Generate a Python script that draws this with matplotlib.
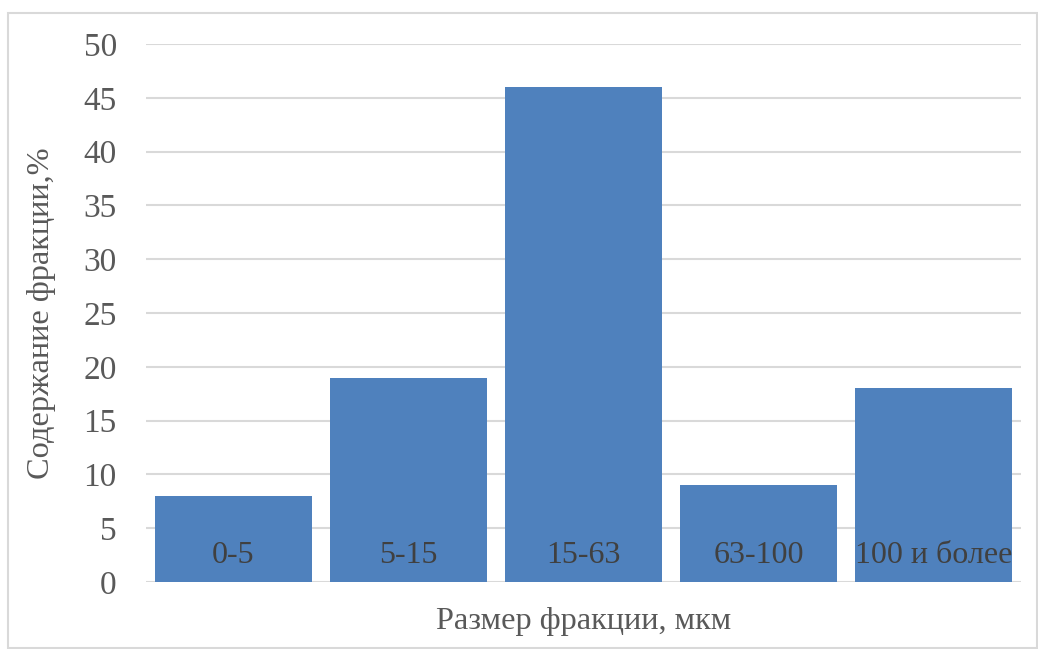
import matplotlib.pyplot as plt
from matplotlib.patches import Rectangle

categories = ["0-5", "5-15", "15-63", "63-100", "100 и более"]
shares = [8, 19, 46, 9, 18]
y_ticks = [0, 5, 10, 15, 20, 25, 30, 35, 40, 45, 50]

BAR_COLOR = "#4F81BD"
GRID_COLOR = "#D9D9D9"
TICK_COLOR = "#595959"

plt.rcParams["font.family"] = ["Liberation Serif", "DejaVu Serif"]

fig = plt.figure(figsize=(10.38, 6.49), dpi=100)
ax = fig.add_axes([146 / 1038, 1 - 582 / 649, 875 / 1038, 538 / 649])

x = list(range(len(categories)))
ax.bar(x, shares, width=0.9, color=BAR_COLOR, zorder=3)

# category names sit inside the bars near the baseline
for xi, name in zip(x, categories):
    ax.text(xi, 2.5, name, ha="center", va="center", fontsize=23,
            color="#404040", zorder=4)

ax.set_xlim(-0.5, len(categories) - 0.5)
ax.set_ylim(0, 50)
ax.set_yticks(y_ticks)
ax.set_xticks([])
ax.tick_params(axis="y", length=0, pad=21, labelsize=24, labelcolor=TICK_COLOR)
ax.yaxis.grid(True, color=GRID_COLOR, linewidth=1.5, zorder=0)
for spine in ax.spines.values():
    spine.set_visible(False)

ax.set_xlabel("Размер фракции, мкм", fontsize=23.3, color=TICK_COLOR, labelpad=18)
ax.set_ylabel("Содержание фракции,%", fontsize=23.3, color=TICK_COLOR, labelpad=20)

# thin frame around the whole chart area
fig.patches.append(Rectangle((8 / 1038, 1 / 649), 1029 / 1038, 635 / 649,
                             transform=fig.transFigure, fill=False,
                             edgecolor="#D9D9D9", linewidth=1.5))

fig.savefig("out.png", dpi=100)
